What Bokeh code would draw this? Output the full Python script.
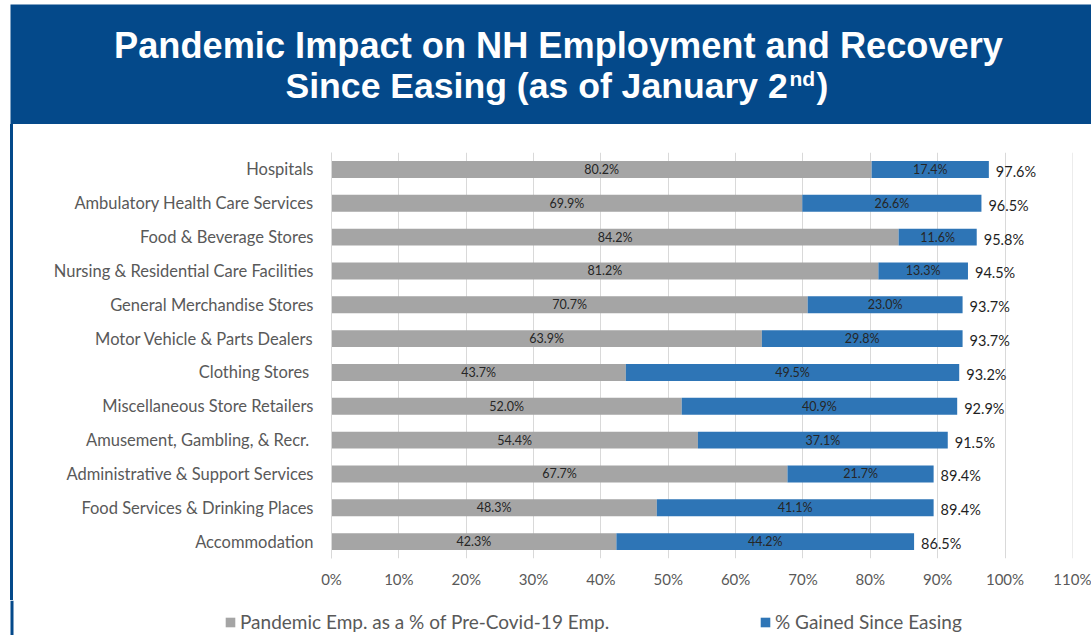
from bokeh.plotting import figure
from bokeh.layouts import column, row
from bokeh.models import (ColumnDataSource, FactorRange, Range1d, FixedTicker,
                          Legend, LegendItem, Div)
from bokeh.core.properties import value
from bokeh.embed import file_html
from bokeh.resources import INLINE

# ---------------- data ----------------
categories = [
    "Hospitals",
    "Ambulatory Health Care Services",
    "Food & Beverage Stores",
    "Nursing & Residential Care Facilities",
    "General Merchandise Stores",
    "Motor Vehicle & Parts Dealers",
    "Clothing  Stores",
    "Miscellaneous Store Retailers",
    "Amusement, Gambling, & Recr. ",
    "Administrative & Support Services",
    "Food Services & Drinking Places",
    "Accommodation",
]
pandemic_pct = [80.2, 69.9, 84.2, 81.2, 70.7, 63.9, 43.7, 52.0, 54.4, 67.7, 48.3, 42.3]
gained_pct = [17.4, 26.6, 11.6, 13.3, 23.0, 29.8, 49.5, 40.9, 37.1, 21.7, 41.1, 44.2]
total_pct = [97.6, 96.5, 95.8, 94.5, 93.7, 93.7, 93.2, 92.9, 91.5, 89.4, 89.4, 86.5]
x_ticks = [0, 10, 20, 30, 40, 50, 60, 70, 80, 90, 100, 110]
x_tick_labels = ["0%", "10%", "20%", "30%", "40%", "50%", "60%", "70%", "80%", "90%", "100%", "110%"]
series_names = ["Pandemic Emp. as a % of Pre-Covid-19 Emp.", "% Gained Since Easing"]
title_line1 = "Pandemic Impact on NH Employment and Recovery"
title_line2 = "Since Easing (as of January 2"
title_sup = "nd"
title_end = ")"

# ---------------- styles ----------------
GRAY = "#A5A5A5"
BLUE = "#2E75B6"
NAVY = "#04498A"
TXT = "#595959"
FONT = "Lato"
TFONT = "Liberation Sans"

TOTAL_W, TOTAL_H = 1091, 635
BANNER_H = 124
STRIP_W = 14
LEG_H = 35
MAIN_W = TOTAL_W - STRIP_W
MAIN_H = TOTAL_H - BANNER_H - LEG_H


def bare(fig):
    fig.axis.visible = False
    fig.grid.visible = False
    fig.outline_line_color = None
    fig.background_fill_color = "white"
    fig.border_fill_color = "white"
    return fig


# ---------------- banner ----------------
banner = bare(figure(width=TOTAL_W, height=BANNER_H, x_range=Range1d(0, TOTAL_W),
                     y_range=Range1d(BANNER_H, 0), min_border=0,
                     output_backend="svg", toolbar_location=None))
banner.quad(left=[10], right=[TOTAL_W], top=[4], bottom=[BANNER_H],
            fill_color=NAVY, line_color=None)
tk = dict(text_color="white", text_font=value(TFONT), text_font_style="bold",
          text_baseline="alphabetic")
banner.text(x=[558], y=[45], text=[title_line1], text_align="center",
            text_font_size="36.2px", **tk)
banner.text(x=[285], y=[85], text=[title_line2], text_align="left",
            text_font_size="35.6px", **tk)
banner.text(x=[789], y=[78], text=[title_sup], text_align="left",
            text_font_size="21px", **tk)
banner.text(x=[816], y=[85], text=[title_end], text_align="left",
            text_font_size="35.6px", **tk)

# ---------------- left rule ----------------
strip = Div(text="", width=3, height=MAIN_H, margin=(0, 1, 0, 10),
            styles={"background-color": NAVY})

# ---------------- main chart ----------------
src = ColumnDataSource(dict(
    cat=categories,
    pan=pandemic_pct,
    gain=gained_pct,
    tot=total_pct,
    pan_mid=[p / 2 for p in pandemic_pct],
    gain_mid=[p + g / 2 for p, g in zip(pandemic_pct, gained_pct)],
    end=[p + g for p, g in zip(pandemic_pct, gained_pct)],
    pan_lbl=[f"{v:.1f}%" for v in pandemic_pct],
    gain_lbl=[f"{v:.1f}%" for v in gained_pct],
    tot_lbl=[f"{v:.1f}%" for v in total_pct],
))

p = figure(width=MAIN_W, height=MAIN_H, y_range=FactorRange(*reversed(categories)),
           x_range=Range1d(0, 110.02), output_backend="svg", toolbar_location=None,
           min_border_left=331 - STRIP_W, min_border_right=TOTAL_W - 1072,
           min_border_top=152 - BANNER_H, min_border_bottom=(BANNER_H + MAIN_H) - 558)
p.outline_line_color = None
p.background_fill_color = "white"
p.border_fill_color = "white"

r1 = p.hbar(y="cat", left=0, right="pan", height=0.5, fill_color=GRAY,
            line_color=None, source=src)
r2 = p.hbar(y="cat", left="pan", right="end", height=0.5, fill_color=BLUE,
            line_color=None, source=src)

p.text(x="pan_mid", y="cat", text="pan_lbl", source=src, text_align="center",
       text_baseline="middle", text_font=value(FONT), text_font_size="12.5px",
       text_color="#262626")
p.text(x="gain_mid", y="cat", text="gain_lbl", source=src, text_align="center",
       text_baseline="middle", text_font=value(FONT), text_font_size="12.5px",
       text_color="#262626")
p.text(x="tot", y="cat", text="tot_lbl", source=src, text_align="left",
       text_baseline="middle", x_offset=7, y_offset=2, text_font=value(FONT),
       text_font_size="14.5px", text_color="#1F1F1F")

xa = p.xaxis[0]
xa.ticker = FixedTicker(ticks=x_ticks)
xa.major_label_overrides = {t: l for t, l in zip(x_ticks, x_tick_labels)}
xa.axis_line_color = None
xa.major_tick_line_color = None
xa.minor_tick_line_color = None
xa.major_tick_out = 0
xa.major_tick_in = 0
xa.major_label_standoff = 11
xa.major_label_text_font = FONT
xa.major_label_text_font_size = "15px"
xa.major_label_text_color = TXT

ya = p.yaxis[0]
ya.axis_line_color = "#D9D9D9"
ya.major_tick_line_color = None
ya.minor_tick_line_color = None
ya.major_tick_out = 0
ya.major_tick_in = 0
ya.major_label_standoff = 18
ya.major_label_text_font = FONT
ya.major_label_text_font_size = "16.5px"
ya.major_label_text_color = TXT

p.xgrid.ticker = FixedTicker(ticks=x_ticks)
p.xgrid.grid_line_color = "#D9D9D9"
p.ygrid.grid_line_color = None

# ---------------- legend strip ----------------
lf = bare(figure(width=TOTAL_W, height=LEG_H, x_range=Range1d(0, TOTAL_W),
                 y_range=Range1d(0, LEG_H), min_border=0,
                 output_backend="svg", toolbar_location=None))
lf.quad(left=[10], right=[13], bottom=[0], top=[LEG_H], fill_color=NAVY, line_color=None)
# legend swatches come from renderers whose only bar lies outside the visible range
off = ColumnDataSource(dict(y=[-100], left=[0], right=[1]))
lr1 = lf.hbar(y="y", left="left", right="right", height=1, fill_color=GRAY,
              line_color=None, source=off)
lr2 = lf.hbar(y="y", left="left", right="right", height=1, fill_color=BLUE,
              line_color=None, source=off)
for r, name, x0 in [(lr1, series_names[0], 224), (lr2, series_names[1], 759)]:
    lg = Legend(items=[LegendItem(label=name, renderers=[r])], location=(x0, 2),
                orientation="horizontal", glyph_width=12, glyph_height=12,
                label_standoff=4, padding=0, margin=0, spacing=0,
                label_height=20, border_line_color=None, background_fill_alpha=0,
                label_text_font=FONT, label_text_font_size="19px",
                label_text_color=TXT)
    lf.add_layout(lg)

layout = column(banner, row(strip, p), lf)
open("out.html", "w").write(file_html(layout, INLINE))
